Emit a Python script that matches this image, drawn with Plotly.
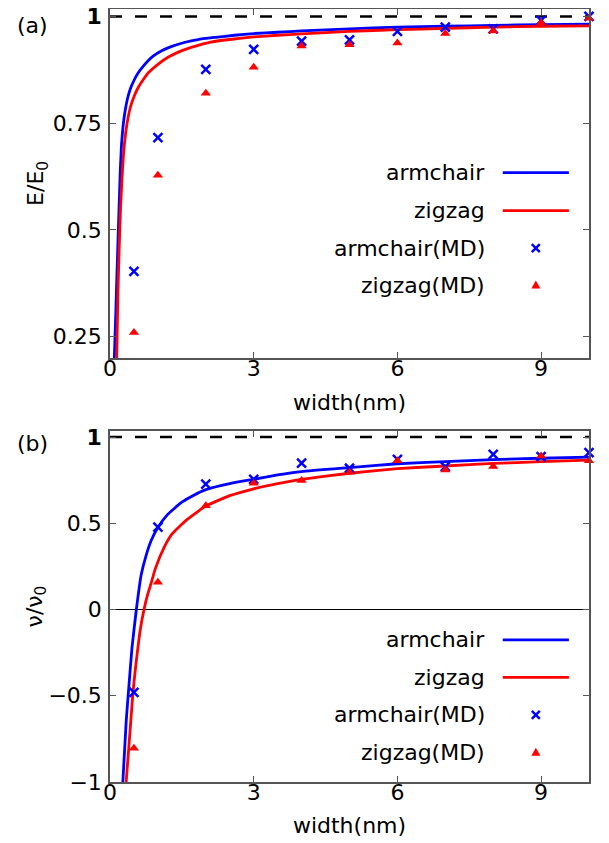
import plotly.graph_objects as go

# ---------------- data ----------------
width_md = [0.5, 1, 2, 3, 4, 5, 6, 7, 8, 9, 10]

# panel (a): E/E0
E_arm_md = [0.403, 0.716, 0.876, 0.923, 0.942, 0.945, 0.965, 0.975, 0.971, 0.991, 1.000]
E_zig_md = [0.260, 0.628, 0.820, 0.881, 0.931, 0.934, 0.938, 0.960, 0.966, 0.985, 0.996]

E_arm_w = [0.085, 0.09, 0.12, 0.146, 0.19, 0.215, 0.24, 0.27, 0.31, 0.36, 0.42, 0.5, 0.59, 0.7,
           0.8, 0.9, 1.05, 1.29, 1.55, 1.84, 2.2, 2.6, 3.0, 3.5, 4.0, 5.0, 6.0, 7.0, 8.0, 9.0, 10.0]
E_arm = [0.15, 0.20, 0.30, 0.40, 0.556, 0.64, 0.70, 0.74, 0.775, 0.805, 0.829, 0.850, 0.868, 0.884,
         0.897, 0.907, 0.918, 0.930, 0.939, 0.946, 0.951, 0.956, 0.960, 0.963, 0.966, 0.971, 0.975,
         0.977, 0.979, 0.981, 0.982]
E_zig_w = [0.13, 0.14, 0.165, 0.19, 0.22, 0.26, 0.30, 0.35, 0.42, 0.5, 0.6, 0.7, 0.8, 1.0, 1.22,
           1.5, 1.77, 2.1, 2.5, 3.0, 3.5, 4.0, 5.0, 6.0, 7.0, 8.0, 9.0, 10.0]
E_zig = [0.15, 0.20, 0.35, 0.45, 0.55, 0.64, 0.70, 0.745, 0.785, 0.812, 0.836, 0.853, 0.868, 0.888,
         0.905, 0.920, 0.930, 0.940, 0.946, 0.952, 0.956, 0.959, 0.965, 0.969, 0.972, 0.975, 0.977, 0.978]

# panel (b): nu/nu0
v_arm_md = [-0.48, 0.478, 0.727, 0.755, 0.848, 0.819, 0.870, 0.829, 0.900, 0.886, 0.909]
v_zig_md = [-0.805, 0.158, 0.601, 0.732, 0.748, 0.796, 0.862, 0.809, 0.829, 0.890, 0.863]

v_arm_w = [0.26, 0.27, 0.30, 0.34, 0.39, 0.46, 0.55, 0.65, 0.75, 0.86, 1.0, 1.2, 1.5, 1.75, 2.0,
           2.5, 3.0, 3.5, 4.0, 5.0, 6.0, 7.0, 8.0, 9.0, 10.0]
v_arm = [-1.05, -0.99, -0.84, -0.64, -0.46, -0.22, 0.0, 0.20, 0.31, 0.40, 0.475, 0.55, 0.622,
         0.663, 0.695, 0.73, 0.755, 0.78, 0.80, 0.823, 0.845, 0.857, 0.869, 0.877, 0.884]
v_zig_w = [0.335, 0.34, 0.39, 0.43, 0.48, 0.52, 0.57, 0.63, 0.71, 0.78, 0.86, 0.95, 1.14, 1.3,
           1.6, 2.0, 2.5, 3.0, 3.5, 4.0, 5.0, 6.0, 7.0, 8.0, 9.0, 10.0]
v_zig = [-1.05, -0.99, -0.81, -0.66, -0.48, -0.37, -0.25, -0.12, 0.0, 0.08, 0.154, 0.24, 0.366,
         0.44, 0.52, 0.60, 0.66, 0.70, 0.73, 0.755, 0.79, 0.817, 0.832, 0.847, 0.857, 0.866]

ref_x = [0, 10]
ref_y = [1, 1]

x_ticks = [0, 3, 6, 9]
ya_ticks = [0.25, 0.5, 0.75, 1]
ya_text = ["0.25", "0.5", "0.75", "<b>1</b>"]
yb_ticks = [-1, -0.5, 0, 0.5, 1]
yb_text = ["\u22121", "\u22120.5", "0", "0.5", "<b>1</b>"]

legend_names = ["armchair", "zigzag", "armchair(MD)", "zigzag(MD)"]

BLUE = "#0000ff"
RED = "#ff0000"
FONT = "DejaVu Sans"
FS = 22

fig = go.Figure()

def add_panel(xa, ya, arm_w, arm, zig_w, zig, arm_md, zig_md):
    fig.add_trace(go.Scatter(x=ref_x, y=ref_y, mode="lines", xaxis=xa, yaxis=ya,
                             line=dict(color="black", width=2.5, dash="12px,13px"),
                             showlegend=False))
    fig.add_trace(go.Scatter(x=arm_w, y=arm, mode="lines", xaxis=xa, yaxis=ya,
                             line=dict(color=BLUE, width=2.8, shape="spline", smoothing=0.4),
                             showlegend=False))
    fig.add_trace(go.Scatter(x=zig_w, y=zig, mode="lines", xaxis=xa, yaxis=ya,
                             line=dict(color=RED, width=2.8, shape="spline", smoothing=0.4),
                             showlegend=False))
    fig.add_trace(go.Scatter(x=width_md, y=arm_md, mode="markers", xaxis=xa, yaxis=ya,
                             marker=dict(symbol="x-thin", size=9, color=BLUE,
                                         line=dict(color=BLUE, width=2.5)),
                             showlegend=False, cliponaxis=False))
    fig.add_trace(go.Scatter(x=width_md, y=zig_md, mode="markers", xaxis=xa, yaxis=ya,
                             marker=dict(symbol="triangle-up", size=9, color=RED),
                             showlegend=False, cliponaxis=False))

add_panel("x", "y", E_arm_w, E_arm, E_zig_w, E_zig, E_arm_md, E_zig_md)
add_panel("x2", "y2", v_arm_w, v_arm, v_zig_w, v_zig, v_arm_md, v_zig_md)

# custom legends (text left, key on the right) in paper units
line_x0, line_x1, mark_x = 0.820, 0.958, 0.889
text_x = 0.787
leg_rows = {"a": [0.7872, 0.7381, 0.6899, 0.6421], "b": [0.1835, 0.1353, 0.0866, 0.0384]}
shapes = []
annotations = []
for key, rows in leg_rows.items():
    for i, name in enumerate(legend_names):
        annotations.append(dict(xref="paper", yref="paper", x=text_x, y=rows[i],
                                xanchor="right", yanchor="middle", text=name,
                                showarrow=False, font=dict(family=FONT, size=FS, color="black")))
    shapes.append(dict(type="line", xref="paper", yref="paper", x0=line_x0, x1=line_x1,
                       y0=rows[0], y1=rows[0], line=dict(color=BLUE, width=2.8)))
    shapes.append(dict(type="line", xref="paper", yref="paper", x0=line_x0, x1=line_x1,
                       y0=rows[1], y1=rows[1], line=dict(color=RED, width=2.8)))
    # "x" key glyph (pixel-sized, anchored in paper units)
    for sgn in (1, -1):
        shapes.append(dict(type="line", xref="paper", yref="paper",
                           xsizemode="pixel", ysizemode="pixel",
                           xanchor=mark_x, yanchor=rows[2],
                           x0=-4, x1=4, y0=-4 * sgn, y1=4 * sgn,
                           line=dict(color=BLUE, width=2.5)))
    # triangle key glyph
    shapes.append(dict(type="path", xref="paper", yref="paper",
                       xsizemode="pixel", ysizemode="pixel",
                       xanchor=mark_x, yanchor=rows[3],
                       path="M -4.5 -3.5 L 4.5 -3.5 L 0 4.5 Z",
                       fillcolor=RED, line=dict(color=RED, width=0)))

annotations.append(dict(xref="paper", yref="paper", x=-0.198, y=0.977, xanchor="left",
                        yanchor="middle", text="(a)", showarrow=False,
                        font=dict(family=FONT, size=FS, color="black")))
annotations.append(dict(xref="paper", yref="paper", x=-0.198, y=0.437, xanchor="left",
                        yanchor="middle", text="(b)", showarrow=False,
                        font=dict(family=FONT, size=FS, color="black")))

axis_common = dict(showline=True, linecolor="#555555", linewidth=1.5, mirror="ticks",
                   ticks="inside", ticklen=6, tickcolor="#555555", tickwidth=1.2,
                   showgrid=False, ticklabeloverflow="allow",
                   tickfont=dict(family=FONT, size=FS, color="black"))

top_dom = [0.5478, 0.999]
bot_dom = [0.0, 0.4535]

fig.update_layout(
    width=601, height=835,
    margin=dict(l=102, r=20, t=0, b=61, autoexpand=False),
    paper_bgcolor="white", plot_bgcolor="white",
    font=dict(family=FONT, size=FS, color="black"),
    xaxis=dict(**axis_common, zeroline=False, domain=[0, 1], anchor="y", range=[0, 10],
               tickvals=x_ticks, ticklabelstandoff=-10,
               title=dict(text="width(nm)", standoff=14, font=dict(family=FONT, size=FS))),
    yaxis=dict(**axis_common, zeroline=False, domain=top_dom, anchor="x", range=[0.2, 1.018],
               tickvals=ya_ticks, ticktext=ya_text, ticklabelstandoff=2,
               title=dict(text="E/E<sub>0</sub>", standoff=3, font=dict(family=FONT, size=FS))),
    xaxis2=dict(**axis_common, zeroline=False, domain=[0, 1], anchor="y2", range=[0, 10],
                tickvals=x_ticks, ticklabelstandoff=-10,
                title=dict(text="width(nm)", standoff=13, font=dict(family=FONT, size=FS))),
    yaxis2=dict(**axis_common, domain=bot_dom, anchor="x2", range=[-1, 1.035],
                zeroline=True, zerolinecolor="black", zerolinewidth=1.2,
                tickvals=yb_ticks, ticktext=yb_text, ticklabelstandoff=2,
                title=dict(text="\u03bd/\u03bd<sub>0</sub>", standoff=0, font=dict(family=FONT, size=FS))),
    shapes=shapes,
    annotations=annotations,
    showlegend=False,
)

fig.write_html("out.html")
